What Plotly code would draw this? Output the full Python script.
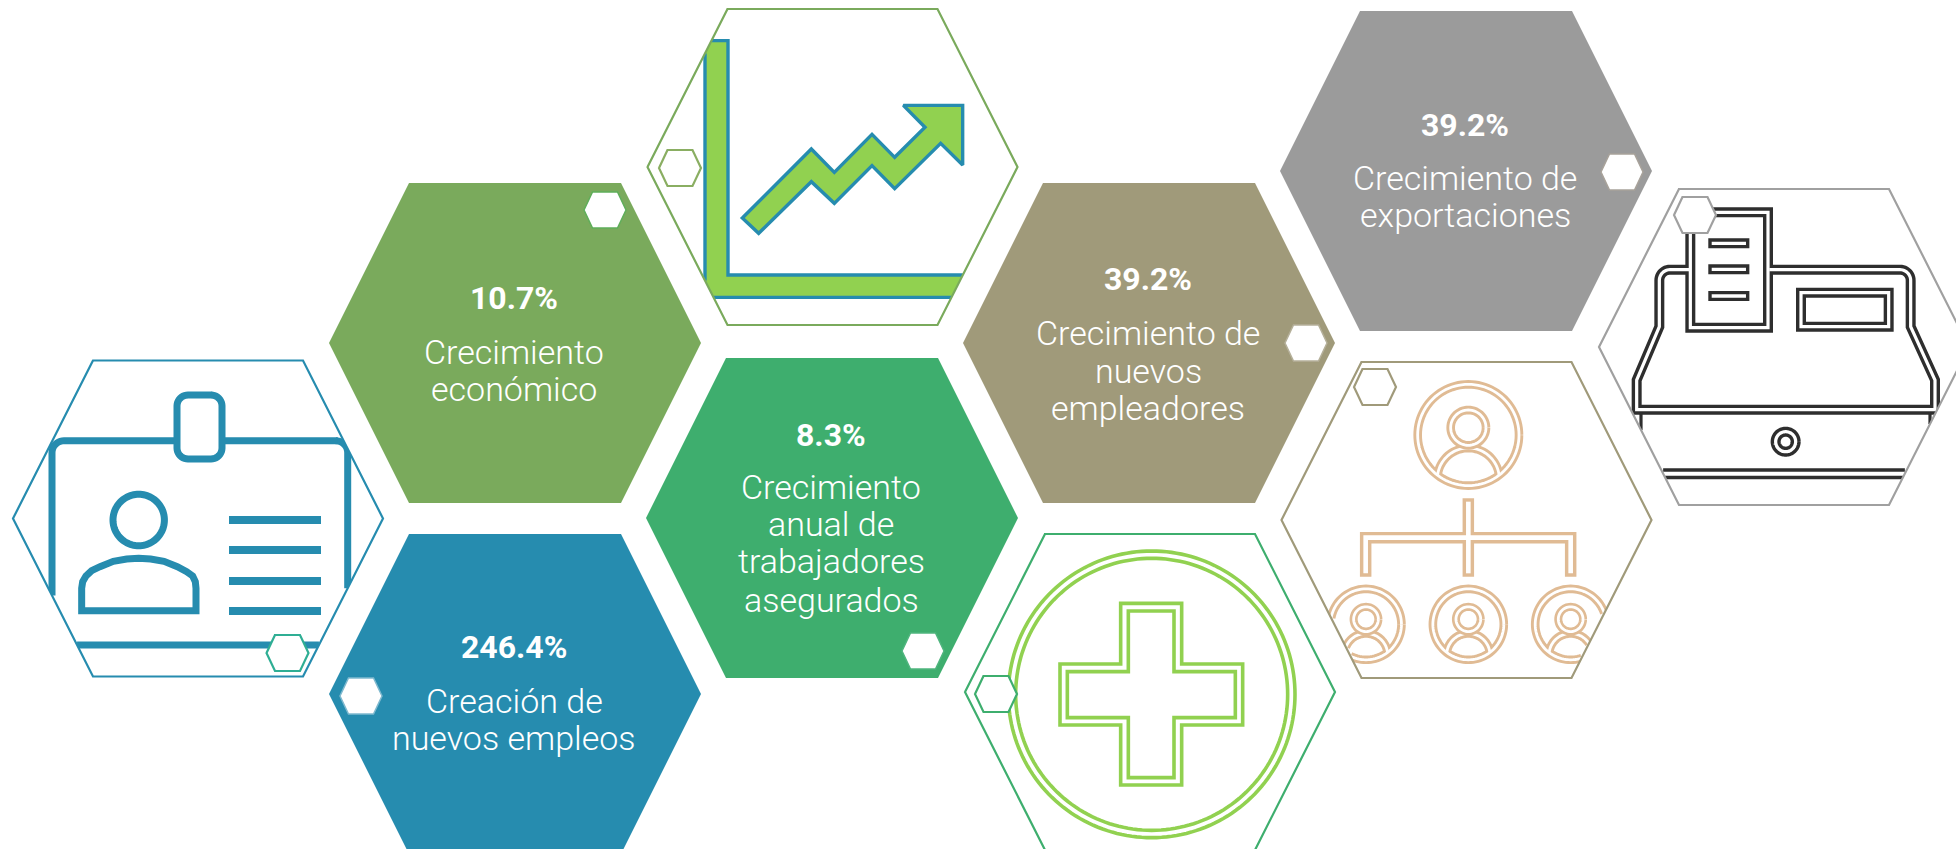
import math
import plotly.graph_objects as go

# ---------- card contents ----------
card_values = ["10.7%", "39.2%", "39.2%", "8.3%", "246.4%"]
card_labels = [
    ["Crecimiento", "económico"],
    ["Crecimiento de", "exportaciones"],
    ["Crecimiento de", "nuevos", "empleadores"],
    ["Crecimiento", "anual de", "trabajadores", "asegurados"],
    ["Creación de", "nuevos empleos"],
]
card_colors = ["#7aaa5c", "#9b9b9b", "#a09a7a", "#3eae6e", "#268caf"]
card_centers = [(515, 343), (1466, 171), (1149, 343), (832, 518), (515, 694)]
card_value_y = [298, 125, 279, 435, 647]
card_label_y = [[351.5, 389], [178, 215], [333, 370.5, 408], [486.5, 524, 561, 600], [701, 738]]
card_badges = [(605, 210), (1622, 172), (1306, 343), (923, 651), (361, 696)]
card_badge_line = ["#5fae5a", "#a8a29a", "#b5b09a", "#4fb57e", "#7fb9cf"]

BLUE, LIME, DARK, TAN = "#268caf", "#91d150", "#2e2e2e", "#e0bb94"
icon_centers = {"id": (198, 518.5), "chart": (832.5, 167), "reg": (1784, 347),
                "org": (1466.5, 520), "cross": (1150, 692)}
icon_line = {"id": BLUE, "chart": "#7aaa5c", "reg": "#a0a0a0", "org": "#a09a7a", "cross": "#3eae6e"}
icon_badges = {"id": (287.5, 653), "chart": (680, 168), "reg": (1695, 215),
               "org": (1375, 387), "cross": (996, 694)}
icon_badge_line = {"id": "#2fae94", "chart": "#8aae62", "reg": "#a0a0a0", "org": "#a09a7a", "cross": "#3eae6e"}

fig = go.Figure()


# ---------- geometry helpers ----------
def hexagon(c, hw=185, ht=158, tw=105, s=1.0):
    x, y = c
    return [(x - hw * s, y), (x - tw * s, y - ht * s), (x + tw * s, y - ht * s),
            (x + hw * s, y), (x + tw * s, y + ht * s), (x - tw * s, y + ht * s)]


def small_hex(c):
    return hexagon(c, 21, 18, 12.5)


def zoom_map(ox, oy):
    return lambda pts: [(ox + a / 3, oy + b / 3) for a, b in pts]


def arc(cx, cy, r, a0=0, a1=360, n=96):
    return [(cx + r * math.cos(math.radians(a0 + (a1 - a0) * i / n)),
             cy - r * math.sin(math.radians(a0 + (a1 - a0) * i / n))) for i in range(n + 1)]


def rrect(x0, y0, x1, y1, r):
    return (arc(x1 - r, y0 + r, r, 90, 0, 10) + arc(x1 - r, y1 - r, r, 0, -90, 10)
            + arc(x0 + r, y1 - r, r, -90, -180, 10) + arc(x0 + r, y0 + r, r, 180, 90, 10))


def closed(p):
    return list(p) + [p[0], p[1]]


def clip_line(pts, hx):
    """Cyrus-Beck: keep the parts of a polyline inside a convex polygon."""
    out = []
    last = None
    for a, b in zip(pts[:-1], pts[1:]):
        t0, t1 = 0.0, 1.0
        ok = True
        for i in range(len(hx)):
            p, q = hx[i], hx[(i + 1) % len(hx)]
            ex, ey = q[0] - p[0], q[1] - p[1]
            nx, ny = -ey, ex
            num = nx * (a[0] - p[0]) + ny * (a[1] - p[1])
            den = nx * (b[0] - a[0]) + ny * (b[1] - a[1])
            if abs(den) < 1e-9:
                if num < 0:
                    ok = False
                    break
            else:
                t = -num / den
                if den > 0:
                    t0 = max(t0, t)
                else:
                    t1 = min(t1, t)
        if not ok or t0 > t1:
            continue
        s = (a[0] + (b[0] - a[0]) * t0, a[1] + (b[1] - a[1]) * t0)
        e = (a[0] + (b[0] - a[0]) * t1, a[1] + (b[1] - a[1]) * t1)
        if last is None or abs(last[0] - s[0]) + abs(last[1] - s[1]) > 1e-6:
            if out:
                out.append((None, None))
            out.append(s)
        out.append(e)
        last = e
    return out


def clip_poly(pts, hx):
    """Sutherland-Hodgman polygon clipping."""
    res = list(pts)
    for i in range(len(hx)):
        p, q = hx[i], hx[(i + 1) % len(hx)]
        side = lambda r: (q[0] - p[0]) * (r[1] - p[1]) - (q[1] - p[1]) * (r[0] - p[0])
        new = []
        for j in range(len(res)):
            a, b = res[j], res[(j + 1) % len(res)]
            sa, sb = side(a), side(b)
            if sa >= 0:
                new.append(a)
            if sa * sb < 0:
                t = sa / (sa - sb)
                new.append((a[0] + (b[0] - a[0]) * t, a[1] + (b[1] - a[1]) * t))
        res = new
    return res


def line(pts, color, w, clip=None):
    if clip:
        pts = clip_line(pts, clip)
    if not pts:
        return
    fig.add_trace(go.Scatter(x=[p[0] for p in pts], y=[p[1] for p in pts], mode="lines",
                             line=dict(color=color, width=w, simplify=False),
                             hoverinfo="skip", showlegend=False))


def fill(pts, color, edge=None, w=0, clip=None):
    if clip:
        pts = clip_poly(pts, clip)
    pts = list(pts) + [pts[0], pts[1]] if edge else list(pts) + [pts[0]]
    fig.add_trace(go.Scatter(x=[p[0] for p in pts], y=[p[1] for p in pts], mode="lines",
                             fill="toself", fillcolor=color,
                             line=dict(color=edge if edge else color, width=w if edge else 0, simplify=False),
                             hoverinfo="skip", showlegend=False))


def frame(key):
    """White mask round the icon, so that thick strokes end on the hexagon, then its outline."""
    c = icon_centers[key]
    line(closed(hexagon(c, s=1.045)), "#ffffff", 15)
    line(closed(hexagon(c)), icon_line[key], 2.2)


# ---------- ID card ----------
H = hexagon(icon_centers["id"])
Z = zoom_map(0, 340)
line(closed(rrect(52, 440.7, 347.7, 645, 12)), BLUE, 7, H)
fill(rrect(177, 395, 222, 459, 11), "#ffffff", BLUE, 7)
line(arc(138.7, 520, 25.7), BLUE, 7)
body = Z([(245, 812), (245, 745), (248, 725), (258, 708), (275, 692), (300, 680), (340, 664),
          (380, 657), (416, 655), (452, 657), (492, 664), (532, 680), (560, 695), (578, 708),
          (586, 725), (588, 745), (588, 812)])
fill(body, "#ffffff", BLUE, 7)
for yy in (520, 550, 581, 611):
    line([(229, yy), (321, yy)], BLUE, 8)
frame("id")

# ---------- rising chart ----------
H = hexagon(icon_centers["chart"])
Z = zoom_map(640, 0)
fill(Z([(195, 122), (264, 122), (264, 825), (1100, 825), (1100, 892), (195, 892)]), LIME, clip=H)
line(Z([(195, 892), (195, 122), (264, 122), (264, 825), (1100, 825)]), BLUE, 3.4, H)
line(Z([(195, 892), (1100, 892)]), BLUE, 3.4, H)
fill(Z([(307, 654), (514, 447), (583, 517), (696, 403), (764, 472), (855, 382), (790, 316),
        (968, 316), (968, 495), (902, 430), (764, 566), (696, 497), (583, 610), (514, 545),
        (356, 700)]), LIME, BLUE, 3.4)
frame("chart")

# ---------- cash register ----------
H = hexagon(icon_centers["reg"])
Z = zoom_map(1590, 180)
WD, WW = 10, 3.2
reg_paths = [
    Z([(298, 269)] + arc(240, 301, 32, 90, 180, 12) + [(208, 440), (140, 600), (140, 689), (1035, 689),
      (1035, 600), (962, 440)] + arc(930, 301, 32, 0, 90, 12) + [(538, 269)]),
    Z(closed([(301, 97), (534, 97), (534, 443), (301, 443)])),
    Z(closed([(633, 338), (896, 338), (896, 440), (633, 440)])),
]
for p in reg_paths:
    line(p, DARK, WD, H)
line(Z([(153, 696), (153, 900)]), DARK, 3.2, H)
line(Z([(1020, 696), (1020, 900)]), DARK, 3.2, H)
line(Z([(150, 881), (1010, 881)]), DARK, 11, H)
for p in reg_paths:
    line(p, "#ffffff", WW, H)
line(Z([(150, 881), (1010, 881)]), "#ffffff", 4, H)
for zy in (190, 268, 348):
    fill(Z([(360, zy - 10), (473, zy - 10), (473, zy + 10), (360, zy + 10)]), "#ffffff", DARK, 3.4)
line(Z(arc(587, 785, 40)), DARK, 3.4)
line(Z(arc(587, 785, 20)), DARK, 3.4)
frame("reg")

# ---------- organisation chart ----------
H = hexagon(icon_centers["org"])
Z = zoom_map(1270, 355)
line(Z([(595, 430), (595, 665)]), TAN, 11.5, H)
line(Z([(287, 665), (287, 548), (902, 548), (902, 665)]), TAN, 11.5, H)
line(Z([(595, 440), (595, 655)]), "#ffffff", 4.6, H)
line(Z([(287, 655), (287, 548), (902, 548), (902, 655)]), "#ffffff", 4.6, H)


def person(zx, zy, s):
    rng = Z(arc(zx, zy, 152 * s))
    sho = Z(arc(zx, zy + 132 * s, 93 * s, 8, 172, 40))
    head = Z(arc(zx, zy - 22 * s, 53 * s, n=60))
    line(rng, TAN, 8.6, H)
    line(sho, TAN, 8.6, H)
    line(rng, "#ffffff", 2.8, H)
    line(sho, "#ffffff", 2.8, H)
    line(head, TAN, 8.6 * (0.8 + 0.2 * s), H)
    line(head, "#ffffff", 2.8, H)


person(595, 240, 1.0)
for zx in (288, 595, 902):
    person(zx, 808, 0.7)
frame("org")

# ---------- medical cross ----------
H = hexagon(icon_centers["cross"])
Z = zoom_map(960, 530)
line(Z(arc(575, 493, 430, n=180)), LIME, 3.6)
line(Z(arc(575, 493, 408, n=180)), LIME, 3.6)
for a0, a1, b0, b1, c0, c1, d0, d1 in [(300, 848, 220, 765, 482, 665, 402, 585),
                                       (322, 826, 243, 743, 505, 642, 425, 563)]:
    line(Z(closed([(c0, b0), (c1, b0), (c1, d0), (a1, d0), (a1, d1), (c1, d1), (c1, b1), (c0, b1),
                   (c0, d1), (a0, d1), (a0, d0), (c0, d0)])), LIME, 3.6)
frame("cross")

# ---------- filled cards ----------
annotations = []
for i, c in enumerate(card_centers):
    fill(hexagon(c, 186, 160, 106), card_colors[i])
    fill(small_hex(card_badges[i]), "#ffffff", card_badge_line[i], 1.5)
    annotations.append(dict(x=c[0] - 1, y=card_value_y[i], text=card_values[i], showarrow=False,
                            xanchor="center", yanchor="middle",
                            font=dict(family="Roboto", size=32, color="#ffffff", weight=700)))
    for lab, yy in zip(card_labels[i], card_label_y[i]):
        annotations.append(dict(x=c[0] - 1, y=yy, text=lab, showarrow=False,
                                xanchor="center", yanchor="middle",
                                font=dict(family="Roboto", size=34, color="#ffffff", weight=300)))

for k, c in icon_badges.items():
    fill(small_hex(c), "#ffffff", icon_badge_line[k], 2.2)

fig.update_layout(
    width=1956, height=849, autosize=False,
    margin=dict(l=0, r=0, t=0, b=0),
    paper_bgcolor="#ffffff", plot_bgcolor="#ffffff", showlegend=False,
    xaxis=dict(range=[0, 1956], visible=False, fixedrange=True),
    yaxis=dict(range=[849, 0], visible=False, fixedrange=True),
    annotations=annotations,
)
fig.write_html("out.html", config={"displayModeBar": False},
               post_script="document.body.style.margin='0';document.body.style.overflow='hidden';")
